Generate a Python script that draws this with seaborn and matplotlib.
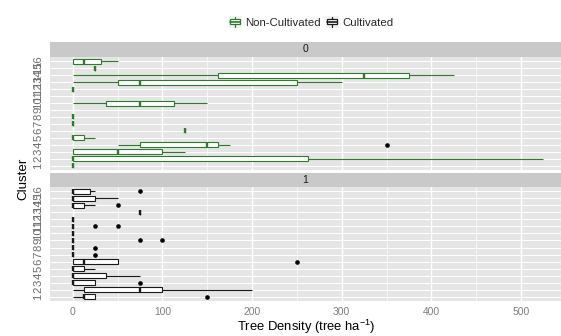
import numpy as np
import pandas as pd
import matplotlib
matplotlib.use('Agg')
import matplotlib.pyplot as plt
import seaborn as sns
from matplotlib.legend_handler import HandlerBase
from matplotlib.patches import Rectangle, Patch
from matplotlib.lines import Line2D
from matplotlib.ticker import FixedLocator

# ---------------- data ----------------
clusters = [str(i) for i in range(1, 17)]
statuses = ['Non-Cultivated', 'Cultivated']
facet_labels = ['0', '1']
x_ticks = [0, 100, 200, 300, 400, 500]

non_cultivated = {
    '1': [0],
    '2': [0, 0, 0, 262.5, 525],
    '3': [0, 0, 50, 100, 125],
    '4': [50, 75, 75, 125, 150, 150, 162.5, 175, 350],
    '5': [0, 0, 0, 12.5, 25],
    '6': [125],
    '7': [0],
    '8': [0],
    '9': [],
    '10': [0, 37.5, 75, 112.5, 150],
    '11': [],
    '12': [0],
    '13': [0, 50, 75, 250, 300],
    '14': [0, 162.5, 325, 375, 425],
    '15': [25],
    '16': [0, 0, 0, 12.5, 25, 37.5, 50],
}
cultivated = {
    '1': [0, 12.5, 12.5, 25, 150],
    '2': [0, 12.5, 75, 100, 200],
    '3': [0, 0, 0, 25, 75],
    '4': [0, 0, 0, 37.5, 75],
    '5': [0, 0, 0, 12.5, 25],
    '6': [0, 0, 12.5, 50, 250],
    '7': [0, 0, 0, 0, 25],
    '8': [0, 0, 0, 0, 25],
    '9': [0, 0, 0, 0, 0, 0, 0, 75, 100],
    '10': [0],
    '11': [0, 0, 0, 0, 0, 0, 0, 25, 50],
    '12': [0],
    '13': [75],
    '14': [0, 0, 0, 0, 0, 12.5, 12.5, 25, 50],
    '15': [0, 0, 0, 25, 50],
    '16': [0, 0, 0, 0, 12.5, 25, 75],
}

rows = []
for status, table in zip(statuses, [non_cultivated, cultivated]):
    for c in clusters:
        for v in table[c]:
            rows.append({'status': status, 'cluster': c, 'density': v})
df = pd.DataFrame(rows)

# ---------------- style ----------------
sns.set_style('white')
plt.rcParams['font.family'] = ['Liberation Sans', 'DejaVu Sans']
plt.rcParams['mathtext.default'] = 'regular'

W, H = 561, 336
fig = plt.figure(figsize=(W / 100, H / 100), dpi=100)
fig.patch.set_facecolor('white')

GREEN = '#2E7B2E'
BLACK = '#1A1A1A'
colors = [GREEN, BLACK]
PANEL = '#E5E5E5'
STRIP = '#C9C9C9'
AXTXT = '#7F7F7F'

left_px, right_px = 50, 561
panels = [(57, 170), (187, 301)]
strips = [(42, 57), (173, 187)]

def fx(px):
    return px / W

def fy(py):
    return 1 - py / H

order_desc = clusters[::-1]
xmin, xmax = -25.4, 544.6

for i, (status, (top, bot)) in enumerate(zip(statuses, panels)):
    ax = fig.add_axes([fx(left_px), fy(bot), fx(right_px - left_px), (bot - top) / H])
    sub = df[df['status'] == status]
    sns.boxplot(data=sub, x='density', y='cluster', order=order_desc, orient='h',
                color='white', saturation=1, linecolor=colors[i], linewidth=0.8,
                width=0.72, whis=1.5, showcaps=False, ax=ax,
                medianprops=dict(color=colors[i], linewidth=1.7),
                flierprops=dict(marker='o', markerfacecolor='black',
                                markeredgecolor='black', markersize=2.3))
    for ln in ax.lines:
        if ln.get_marker() == 'o':
            ln.set_markerfacecolor('black')
            ln.set_markeredgecolor('black')
    ax.set_facecolor(PANEL)
    ax.set_xlim(xmin, xmax)
    ax.set_ylim(15.6, -0.6)
    ax.xaxis.set_major_locator(FixedLocator(x_ticks))
    ax.xaxis.set_minor_locator(FixedLocator([50, 150, 250, 350, 450, 550]))
    ax.set_axisbelow(True)
    ax.grid(which='major', axis='x', color='white', linewidth=1.0)
    ax.grid(which='minor', axis='x', color='white', linewidth=0.45)
    ax.grid(which='major', axis='y', color='white', linewidth=0.7)
    for s in ax.spines.values():
        s.set_visible(False)
    ax.set_yticks(range(len(order_desc)))
    ax.set_yticklabels(order_desc, rotation=90, va='center', ha='center',
                       fontsize=8.2, color='#6E6E6E')
    ax.tick_params(axis='y', which='major', length=2.5, width=0.6, color=AXTXT, pad=6)
    ax.tick_params(axis='x', which='minor', length=0)
    ax.set_xlabel('')
    ax.set_ylabel('')
    if i == 0:
        ax.tick_params(axis='x', which='major', length=0, labelbottom=False)
    else:
        ax.tick_params(axis='x', which='major', length=2.5, width=0.6, color=AXTXT,
                       labelsize=7.4, labelcolor=AXTXT, pad=1.5)

    # facet strip
    st, sb = strips[i]
    sax = fig.add_axes([fx(left_px), fy(sb), fx(right_px - left_px), (sb - st) / H])
    sax.set_facecolor(STRIP)
    sax.set_xticks([])
    sax.set_yticks([])
    for s in sax.spines.values():
        s.set_visible(False)
    sax.text(0.5, 0.5, facet_labels[i], ha='center', va='center', fontsize=7.5,
             color='#1A1A1A', transform=sax.transAxes)

# axis titles
fig.text(fx(306), fy(326.5), 'Tree Density (tree ha$^{-1}$)', ha='center', va='center',
         fontsize=9.4, color='black')
fig.text(fx(23), fy(179), 'Cluster', ha='center', va='center', rotation=90,
         fontsize=9.6, color='black')

# legend
class BoxKey(HandlerBase):
    def __init__(self, color):
        super().__init__()
        self.color = color

    def create_artists(self, legend, orig_handle, xdescent, ydescent, width, height,
                       fontsize, trans):
        x0, y0 = -xdescent, -ydescent
        bg = Rectangle((x0, y0), width, height, facecolor='#F2F2F2', edgecolor='none',
                       transform=trans)
        bx = Rectangle((x0 + 0.12 * width, y0 + 0.27 * height), 0.76 * width, 0.46 * height,
                       facecolor='white', edgecolor=self.color, linewidth=0.9, transform=trans)
        med = Line2D([x0 + 0.12 * width, x0 + 0.88 * width], [y0 + 0.5 * height] * 2,
                     color=self.color, linewidth=1.2, transform=trans)
        w1 = Line2D([x0 + 0.5 * width] * 2, [y0 + 0.73 * height, y0 + 0.95 * height],
                    color=self.color, linewidth=0.9, transform=trans)
        w2 = Line2D([x0 + 0.5 * width] * 2, [y0 + 0.05 * height, y0 + 0.27 * height],
                    color=self.color, linewidth=0.9, transform=trans)
        return [bg, bx, med, w1, w2]

h1 = Patch(facecolor='white', edgecolor=GREEN)
h2 = Patch(facecolor='white', edgecolor=BLACK)
fig.legend(handles=[h1, h2], labels=statuses,
           handler_map={h1: BoxKey(GREEN), h2: BoxKey(BLACK)},
           loc='center', bbox_to_anchor=(fx(311), fy(22)), ncol=2, frameon=False,
           fontsize=8.2, handlelength=1.15, handleheight=1.15, handletextpad=0.3,
           columnspacing=0.45, borderpad=0.2)

fig.savefig('out.png', dpi=100, facecolor='white')
